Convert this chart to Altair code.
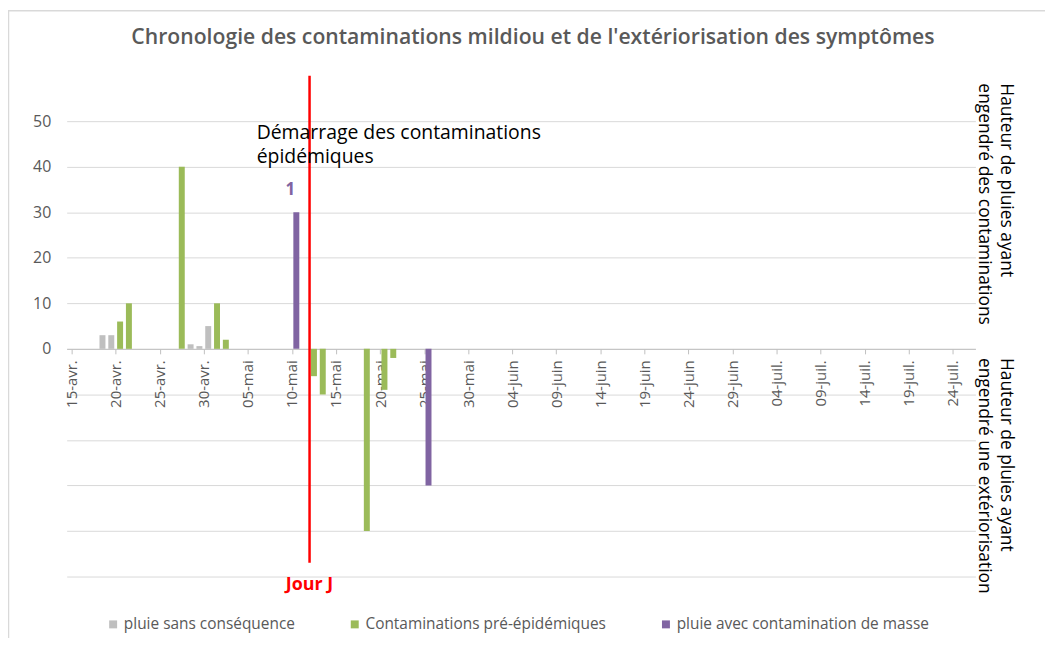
import altair as alt
import pandas as pd

# ---------------- data ----------------
start_date = "2021-04-15"
series_names = ["pluie sans conséquence", "Contaminations pré-épidémiques", "pluie avec contamination de masse"]
series_colors = ["#bfbfbf", "#9bbb59", "#8064a2"]

gray_dates = ["2021-04-18", "2021-04-19", "2021-04-28", "2021-04-29", "2021-04-30"]
gray_values = [3, 3, 1, 0.6, 5]

green_dates = ["2021-04-20", "2021-04-21", "2021-04-27", "2021-05-01", "2021-05-02",
               "2021-05-12", "2021-05-13", "2021-05-18", "2021-05-20", "2021-05-21"]
green_values = [6, 10, 40, 10, 2, -6, -10, -40, -9, -2]

purple_dates = ["2021-05-10", "2021-05-25"]
purple_values = [30, -30]

tick_labels = ["15-avr.", "20-avr.", "25-avr.", "30-avr.", "05-mai", "10-mai", "15-mai",
               "20-mai", "25-mai", "30-mai", "04-juin", "09-juin", "14-juin", "19-juin",
               "24-juin", "29-juin", "04-juil.", "09-juil.", "14-juil.", "19-juil.", "24-juil."]

jour_j_date = "2021-05-12"
jour_j_top = 60
jour_j_bottom = -47

title_text = "Chronologie des contaminations mildiou et de l'extériorisation des symptômes"
annot_text = "Démarrage des contaminations\népidémiques"
right_text_top = "Hauteur de pluies ayant\nengendré des contaminations"
right_text_bottom = "Hauteur de pluies ayant\nengendré une extériorisation"

# ---------------- tables ----------------
t0 = pd.Timestamp(start_date)


def day_of(d):
    return (pd.Timestamp(d) - t0).days


rows = []
for name, dates, vals in [(series_names[0], gray_dates, gray_values),
                          (series_names[1], green_dates, green_values),
                          (series_names[2], purple_dates, purple_values)]:
    for d, v in zip(dates, vals):
        rows.append({"day": day_of(d) + 0.5, "value": v, "serie": name})
bars_df = pd.DataFrame(rows)

label_df = pd.DataFrame([{"day": day_of(purple_dates[0]) + 0.5, "value": purple_values[0], "txt": "1"}])
rule_df = pd.DataFrame([{"day": day_of(jour_j_date), "top": jour_j_top, "bottom": jour_j_bottom}])
annot_df = pd.DataFrame([{"day": 21, "value": 46, "txt": annot_text}])
right_df = pd.DataFrame([{"day": 107, "value": 58.3, "txt": right_text_top},
                         {"day": 107, "value": -2.0, "txt": right_text_bottom}])
title_df = pd.DataFrame([{"txt": title_text}])

W, H = 914, 458
x_scale = alt.Scale(domain=[0, 102], nice=False, zero=False)
y_scale = alt.Scale(domain=[-50, 50], nice=False)

label_expr = "[" + ",".join("'" + l + "'" for l in tick_labels) + "][round(datum.value/5)]"

bars = alt.Chart(bars_df).mark_bar(size=6).encode(
    x=alt.X("day:Q", scale=x_scale, title=None,
            axis=alt.Axis(values=list(range(0, 101, 5)), labelExpr=label_expr,
                          offset=-(H / 2), labelAngle=270, labelAlign="right",
                          labelBaseline="middle", labelFont="Open Sans", labelFontSize=15,
                          labelColor="#595959", labelPadding=6, tickSize=5,
                          tickColor="#bfbfbf", domain=True, domainColor="#bfbfbf", grid=False,
                          labelOverlap=False, labelFlush=False)),
    y=alt.Y("value:Q", scale=y_scale, title=None,
            axis=alt.Axis(values=list(range(-50, 51, 10)),
                          labelExpr="datum.value >= 0 ? datum.label : ''",
                          labelFont="Open Sans", labelFontSize=16, labelColor="#595959",
                          ticks=False, domain=False, labelPadding=16,
                          gridColor="#d9d9d9", gridWidth=1)),
    color=alt.Color("serie:N", scale=alt.Scale(domain=series_names, range=series_colors),
                    legend=alt.Legend(orient="none", legendX=39, legendY=498,
                                      direction="horizontal", title=None, symbolType="square",
                                      symbolSize=64, symbolStrokeWidth=0, labelFont="Open Sans",
                                      labelFontSize=15.5, labelColor="#595959", columnPadding=52,
                                      labelOffset=3, padding=0, labelLimit=500)),
)

one_label = alt.Chart(label_df).mark_text(
    font="Open Sans", fontSize=17, fontWeight="bold", color="#8064a2",
    baseline="alphabetic", dy=-17, dx=-6
).encode(x=alt.X("day:Q", scale=x_scale), y=alt.Y("value:Q", scale=y_scale), text="txt:N")

rule = alt.Chart(rule_df).mark_rule(color="#ff0000", strokeWidth=2.5, clip=False).encode(
    x=alt.X("day:Q", scale=x_scale), y=alt.Y("top:Q", scale=y_scale), y2="bottom:Q")

jour = alt.Chart(rule_df).mark_text(
    font="Open Sans", fontSize=18, fontWeight="bold", color="#ff0000",
    baseline="top", dy=13, clip=False
).encode(x=alt.X("day:Q", scale=x_scale), y=alt.Y("bottom:Q", scale=y_scale),
         text=alt.value("Jour J"))

annot = alt.Chart(annot_df).mark_text(
    font="Open Sans", fontSize=19.5, color="#000000", align="left", baseline="alphabetic",
    lineBreak="\n", lineHeight=24
).encode(x=alt.X("day:Q", scale=x_scale), y=alt.Y("value:Q", scale=y_scale), text="txt:N")

right = alt.Chart(right_df).mark_text(
    font="Open Sans", fontSize=17.5, color="#000000", align="left", baseline="top",
    angle=90, lineBreak="\n", lineHeight=22, clip=False
).encode(x=alt.X("day:Q", scale=x_scale), y=alt.Y("value:Q", scale=y_scale), text="txt:N")

title = alt.Chart(title_df).mark_text(
    font="Open Sans", fontSize=21.3, fontWeight=600, color="#595959", align="center",
    baseline="alphabetic"
).encode(x=alt.value(469), y=alt.value(-78), text="txt:N")

border = alt.Chart(title_df).mark_rect(fill=None, stroke="#d9d9d9", strokeWidth=1.5).encode(
    x=alt.value(-58.5), x2=alt.value(1000), y=alt.value(-111), y2=alt.value(560))

chart = alt.layer(border, bars, rule, one_label, jour, annot, right, title).properties(
    width=W, height=H,
    autosize=alt.AutoSizeParams(type="none"),
    padding={"left": 59, "top": 112, "right": 70, "bottom": 60},
    background="white",
).configure_view(stroke=None)

chart.save("out.html", embed_options={"renderer": "svg", "actions": False})
